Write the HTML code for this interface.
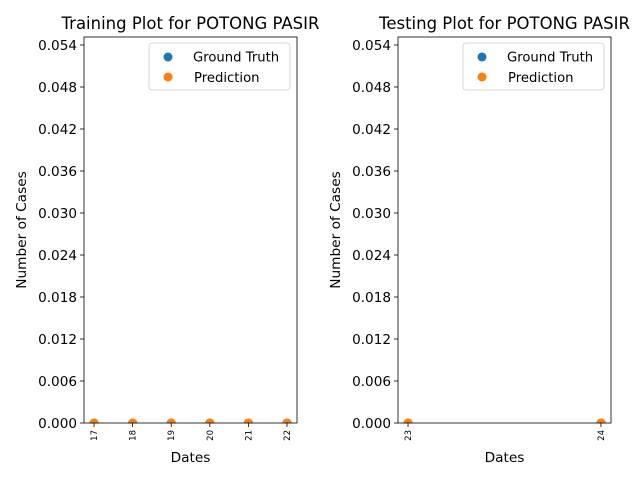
<!DOCTYPE html>
<html><head><meta charset="utf-8"><style>body{margin:0;background:#fff}svg{display:block;font-family:"DejaVu Sans","Liberation Sans",sans-serif}</style></head>
<body>
<svg id="c" width="640" height="480" xmlns="http://www.w3.org/2000/svg"></svg>
<script>
const trainDates = [17, 18, 19, 20, 21, 22];
const trainTruth = [0, 0, 0, 0, 0, 0];
const trainPred = [0, 0, 0, 0, 0, 0];
const testDates = [23, 24];
const testTruth = [0, 0];
const testPred = [0, 0];
const yTicks = ["0.000","0.006","0.012","0.018","0.024","0.030","0.036","0.042","0.048","0.054"];
const yMax = 0.05514;

const svg = document.getElementById('c');
const NS = 'http://www.w3.org/2000/svg';
function mk(tag, attrs, parent, text) {
  const e = document.createElementNS(NS, tag);
  for (const k in attrs) e.setAttribute(k, attrs[k]);
  if (text !== undefined) e.textContent = text;
  (parent || svg).appendChild(e);
  return e;
}
function panel(prefix, x0, x1, xmin, xmax, dates, truth, pred, title) {
  const y0 = 37, y1 = 423;
  const g = mk('g', {});
  
  
  const sx = v => x0 + (v - xmin) / (xmax - xmin) * (x1 - x0);
  const sy = v => y1 - v / yMax * (y1 - y0);
  const t = mk('text', {x: (x0 + x1) / 2, y: 29, 'text-anchor': 'middle', 'font-size': 16.5}, g, title);
  
  
  yTicks.forEach(s => {
    const y = sy(parseFloat(s));
    mk('line', {x1: x0 - 4, x2: x0, y1: y, y2: y, stroke: '#000', 'stroke-width': 0.8}, g);
    const l = mk('text', {x: x0 - 7, y: y + 5, 'text-anchor': 'end', 'font-size': 13.6}, g, s);
    
    
  });
  dates.forEach(d => {
    const x = sx(d);
    const l = mk('text', {x: x + 3, y: y1 + 7, 'text-anchor': 'end', 'font-size': 8.5, transform: `rotate(-90 ${x + 3} ${y1 + 7})`}, g, String(d));
    
    
  });
  const xl = mk('text', {x: (x0 + x1) / 2, y: 462, 'text-anchor': 'middle', 'font-size': 13.7}, g, 'Dates');
  
  
  const yl = mk('text', {x: x0 - 58, y: (y0 + y1) / 2, 'text-anchor': 'middle', 'font-size': 13.7, transform: `rotate(-90 ${x0 - 58} ${(y0 + y1) / 2})`}, g, 'Number of Cases');
  
  
  dates.forEach((d, i) => {
    const p = mk('circle', {cx: sx(d), cy: sy(truth[i]), r: 4.5, fill: '#1f77b4'}, g);
    
    
  });
  dates.forEach((d, i) => {
    const p = mk('circle', {cx: sx(d), cy: sy(pred[i]), r: 4.5, fill: '#ff7f0e'}, g);
    
    
  });
  mk('rect', {x: x0 - 5, y: y1 + 0.5, width: x1 - x0 + 10, height: 5, fill: '#fff'}, g);
  dates.forEach(d => { const x = sx(d); mk('line', {x1: x, x2: x, y1: y1, y2: y1 + 4, stroke: '#000', 'stroke-width': 0.8}, g); });
  const fr = mk('rect', {x: x0, y: y0, width: x1 - x0, height: y1 - y0, fill: 'none', stroke: '#000', 'stroke-width': 0.8}, g);
  
  
  const lx = x1 - 148;
  const lg = mk('g', {}, g);
  
  
  mk('rect', {x: lx, y: 43, width: 141, height: 47, rx: 3, fill: '#fff', stroke: '#ccc', 'stroke-width': 0.8}, lg);
  const e1 = mk('circle', {cx: lx + 19, cy: 57, r: 4.5, fill: '#1f77b4'}, lg);
  
  
  const t1 = mk('text', {x: lx + 44, y: 61.5, 'font-size': 13.2}, lg, 'Ground Truth');
  
  
  const e2 = mk('circle', {cx: lx + 19, cy: 77, r: 4.5, fill: '#ff7f0e'}, lg);
  
  
  const t2 = mk('text', {x: lx + 45, y: 82, 'font-size': 13.2}, lg, 'Prediction');
  
  
}
panel('training', 84, 297, 16.74, 22.26, trainDates, trainTruth, trainPred, 'Training Plot for POTONG PASIR');
panel('testing', 398, 611, 22.948, 24.052, testDates, testTruth, testPred, 'Testing Plot for POTONG PASIR');
</script>
</body></html>
